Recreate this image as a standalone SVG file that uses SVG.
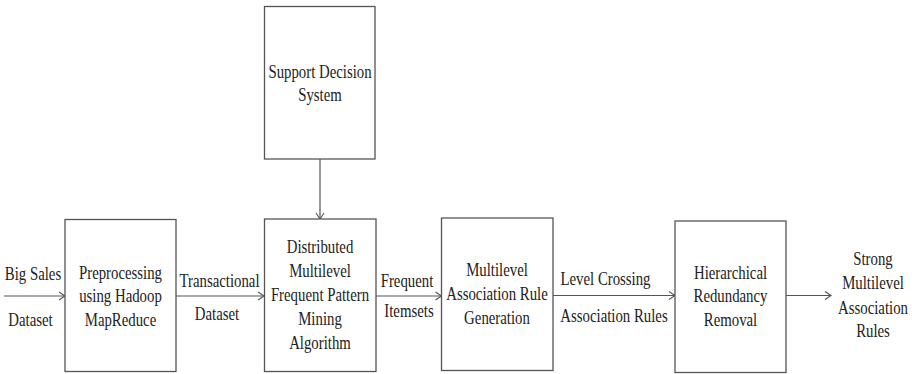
<svg xmlns="http://www.w3.org/2000/svg" width="912" height="374" viewBox="0 0 912 374">
<defs>
<marker id="arr" viewBox="0 0 10 10" refX="9" refY="5" markerWidth="10" markerHeight="10" markerUnits="userSpaceOnUse" orient="auto">
<path d="M3,1 L9,5 L3,9" fill="none" stroke="#555" stroke-width="1.1"/>
</marker>
<style>
.b{fill:#fff;stroke:#555;stroke-width:1.3}
.c{fill:none;stroke:#555;stroke-width:1.2}
text{font-family:"Liberation Serif","Times New Roman",serif;font-size:19px;fill:#222;text-anchor:middle}
</style>
</defs>
<rect width="912" height="374" fill="#fff"/>
<g id="connectors">
<line class="c" x1="4" y1="296" x2="65" y2="296" marker-end="url(#arr)"/>
<line class="c" x1="176" y1="296" x2="264" y2="296" marker-end="url(#arr)"/>
<line class="c" x1="320" y1="159" x2="320" y2="219" marker-end="url(#arr)"/>
<line class="c" x1="376" y1="296" x2="441.5" y2="296" marker-end="url(#arr)"/>
<line class="c" x1="553" y1="295.5" x2="675" y2="295.5" marker-end="url(#arr)"/>
<line class="c" x1="786" y1="295.5" x2="831" y2="295.5" marker-end="url(#arr)"/>
</g>
<g id="labels">
<text transform="translate(33 0) scale(0.78 1)" y="280">Big Sales</text>
<text transform="translate(30.5 0) scale(0.78 1)" y="326">Dataset</text>
<text transform="translate(219.5 0) scale(0.78 1)" y="287.5">Transactional</text>
<text transform="translate(217 0) scale(0.78 1)" y="320">Dataset</text>
<text transform="translate(407 0) scale(0.78 1)" y="287.5">Frequent</text>
<text transform="translate(409 0) scale(0.78 1)" y="317.5">Itemsets</text>
<text transform="translate(605.5 0) scale(0.78 1)" y="285">Level Crossing</text>
<text transform="translate(614 0) scale(0.78 1)" y="322.5">Association Rules</text>
</g>
<g id="support">
<rect class="b" x="264.5" y="6.5" width="110.5" height="152.5"/>
<text transform="translate(320 0) scale(0.78 1)" y="78">Support Decision</text>
<text transform="translate(320 0) scale(0.78 1)" y="101">System</text>
</g>
<g id="preprocessing">
<rect class="b" x="65" y="219.5" width="111" height="152"/>
<text transform="translate(120.5 0) scale(0.78 1)" y="279">Preprocessing</text>
<text transform="translate(120.5 0) scale(0.78 1)" y="302.5">using Hadoop</text>
<text transform="translate(120.5 0) scale(0.78 1)" y="326">MapReduce</text>
</g>
<g id="mining">
<rect class="b" x="264.5" y="219" width="111.5" height="152.5"/>
<text transform="translate(320 0) scale(0.78 1)" y="253.5">Distributed</text>
<text transform="translate(320 0) scale(0.78 1)" y="277.5">Multilevel</text>
<text transform="translate(320 0) scale(0.78 1)" y="301.5">Frequent Pattern</text>
<text transform="translate(320 0) scale(0.78 1)" y="325.5">Mining</text>
<text transform="translate(320 0) scale(0.78 1)" y="349.5">Algorithm</text>
</g>
<g id="generation">
<rect class="b" x="441.5" y="218" width="111.5" height="152.5"/>
<text transform="translate(497 0) scale(0.78 1)" y="276">Multilevel</text>
<text transform="translate(497 0) scale(0.78 1)" y="300.5">Association Rule</text>
<text transform="translate(497 0) scale(0.78 1)" y="324">Generation</text>
</g>
<g id="removal">
<rect class="b" x="675" y="221" width="111" height="151.5"/>
<text transform="translate(730.5 0) scale(0.78 1)" y="279.5">Hierarchical</text>
<text transform="translate(730.5 0) scale(0.78 1)" y="302.5">Redundancy</text>
<text transform="translate(730.5 0) scale(0.78 1)" y="326">Removal</text>
</g>
<g id="output">
<text transform="translate(873 0) scale(0.78 1)" y="265">Strong</text>
<text transform="translate(873 0) scale(0.78 1)" y="289.5">Multilevel</text>
<text transform="translate(873 0) scale(0.78 1)" y="314">Association</text>
<text transform="translate(873 0) scale(0.78 1)" y="337.5">Rules</text>
</g>
</svg>
